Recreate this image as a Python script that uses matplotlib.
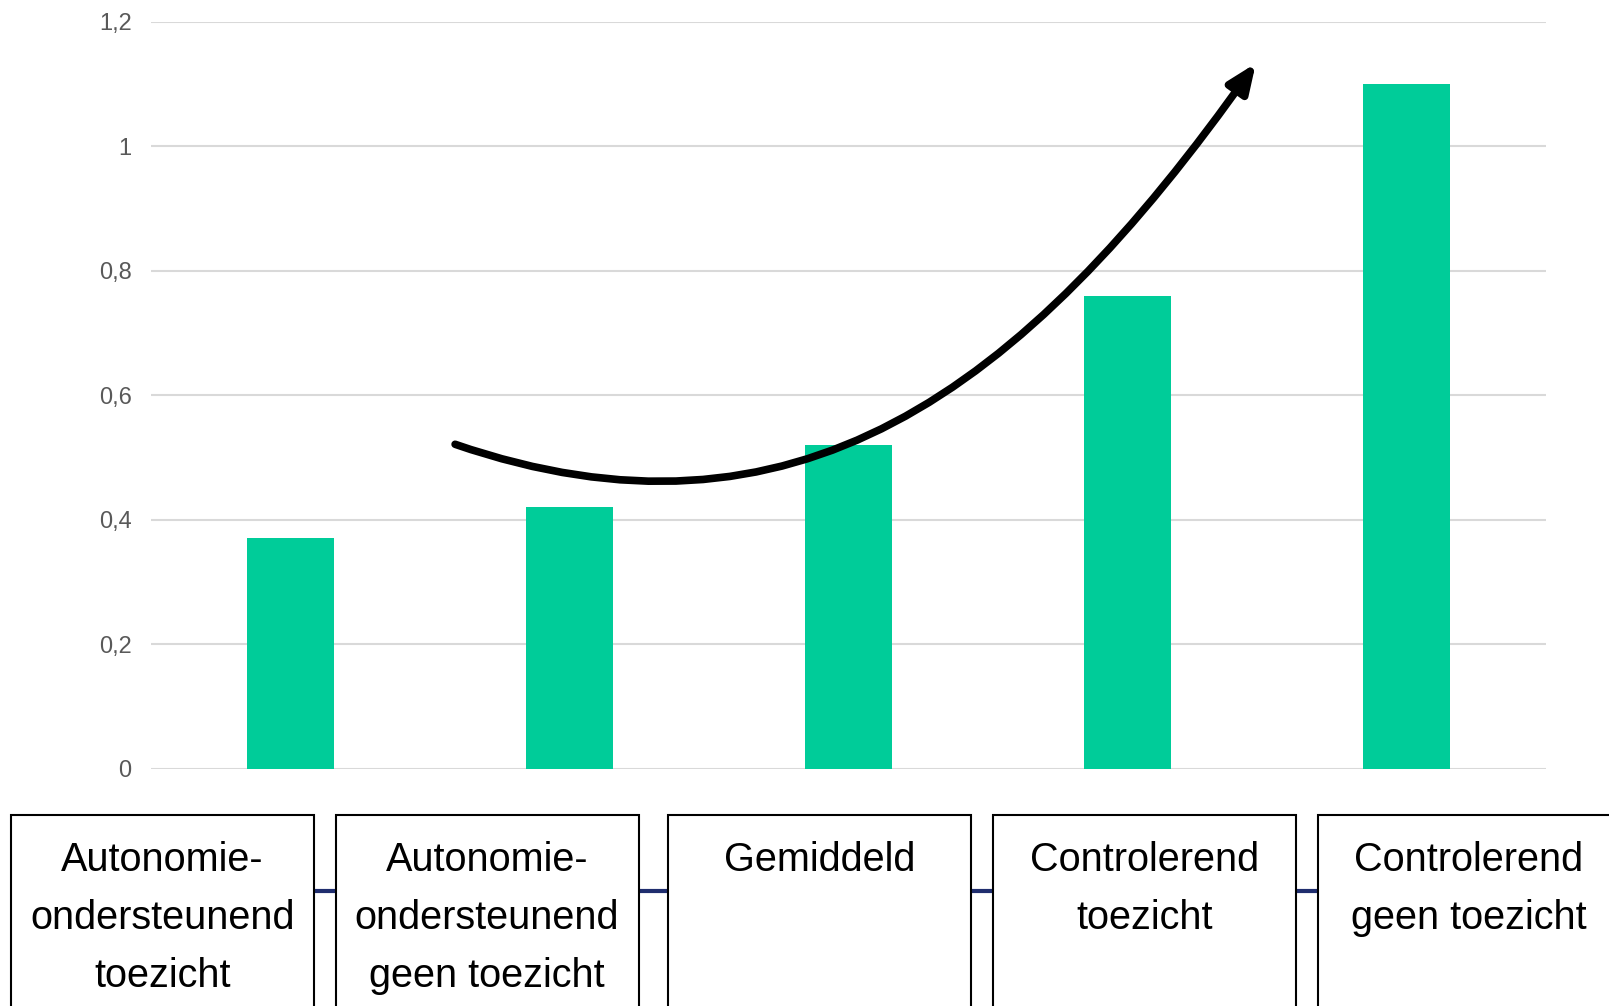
import matplotlib.pyplot as plt
from matplotlib.patches import Rectangle, FancyArrowPatch
from matplotlib.path import Path
from matplotlib.lines import Line2D
import matplotlib.ticker as ticker

# bar values per supervision style
categories = [["Autonomie-", "ondersteunend", "toezicht"],
              ["Autonomie-", "ondersteunend", "geen toezicht"],
              ["Gemiddeld"],
              ["Controlerend", "toezicht"],
              ["Controlerend", "geen toezicht"]]
values = [0.37, 0.42, 0.52, 0.76, 1.10]
yticks = [0, 0.2, 0.4, 0.6, 0.8, 1.0, 1.2]
ytick_labels = ["0", "0,2", "0,4", "0,6", "0,8", "1", "1,2"]

W, H = 1609, 1006
fig = plt.figure(figsize=(W / 100, H / 100), dpi=100)
fig.patch.set_facecolor("white")

ax = fig.add_axes([151 / W, 1 - 768.6 / H, 1395 / W, 747 / H])
x = range(len(values))
ax.bar(x, values, width=0.315, color="#00CC99", zorder=2)
ax.set_xlim(-0.5, len(values) - 0.5)
ax.set_ylim(0, 1.2)
ax.set_yticks(yticks)
ax.set_yticklabels(ytick_labels)
ax.set_xticks([])
ax.yaxis.set_minor_locator(ticker.NullLocator())
ax.tick_params(axis="y", length=0, pad=14, labelsize=17, labelcolor="#595959")
for lbl in ax.get_yticklabels():
    lbl.set_fontfamily("Liberation Sans")
ax.grid(axis="y", color="#D9D9D9", linewidth=1.5, zorder=0)
for s in ax.spines.values():
    s.set_visible(False)

# curved trend arrow over the bars (bezier in data units)
verts = [(0.590, 0.521), (1.80, 0.335), (2.62, 0.60), (3.46, 1.133)]
trend = Path(verts, [Path.MOVETO, Path.CURVE4, Path.CURVE4, Path.CURVE4])
arrow = FancyArrowPatch(path=trend, arrowstyle="-|>,head_length=1.0,head_width=0.42",
                        mutation_scale=17, color="black", linewidth=5.5,
                        shrinkA=0, shrinkB=0, zorder=5)
ax.add_patch(arrow)

# label boxes under the chart, joined by a thin navy line
box_left = [11, 335.5, 668, 993, 1317.5]
box_w = 303
box_top = 815
baselines = [871, 929, 987]
fig.add_artist(Line2D([(box_left[0] + box_w) / W, box_left[-1] / W], [1 - 890.5 / H] * 2,
                      color="#1F2D6E", linewidth=3, solid_capstyle="butt", zorder=1))
for left, lines in zip(box_left, categories):
    fig.add_artist(Rectangle((left / W, -0.05), box_w / W, 0.05 + 1 - box_top / H,
                             facecolor="white", edgecolor="black", linewidth=1.5,
                             zorder=2))
    for line, base in zip(lines, baselines):
        fig.text((left + box_w / 2) / W, 1 - base / H, line, ha="center",
                 va="baseline", fontsize=28.5, family="Liberation Sans", zorder=3)

fig.savefig("out.png", dpi=100)
